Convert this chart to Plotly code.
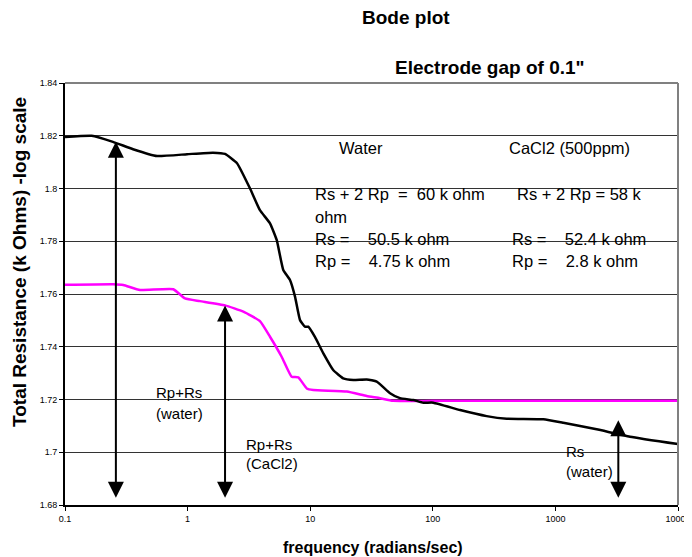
import numpy as np
import plotly.graph_objects as go

# ---- data ----
water_freq = [0.1, 0.165, 0.246, 0.359, 0.563, 0.99, 1.61, 2.02, 2.53, 3.23, 3.89, 4.70,
              5.33, 6.03, 6.84, 7.52, 8.26, 9.07, 9.65, 10.9, 12.8, 15.4, 18.6, 22.5,
              28.9, 34.9, 44.8, 54.0, 69.3, 83.7, 101, 167, 275, 401, 797, 1160, 2170,
              4060, 10000]
water_r = [1.8195, 1.8200, 1.8177, 1.8149, 1.8123, 1.8130, 1.8136, 1.8131, 1.8096, 1.8000,
           1.7918, 1.7868, 1.7805, 1.7691, 1.7653, 1.7590, 1.7501, 1.7476, 1.7476, 1.7438,
           1.7375, 1.7312, 1.7280, 1.7274, 1.7276, 1.7268, 1.7224, 1.7205, 1.7198, 1.7188,
           1.7188, 1.7160, 1.7137, 1.7127, 1.7125, 1.7112, 1.7087, 1.7059, 1.7031]

cacl2_freq = [0.1, 0.248, 0.299, 0.409, 0.764, 0.953, 1.26, 2.02, 2.85, 3.89, 4.70, 5.85,
              7.06, 8.0, 9.37, 10.6, 19.9, 28.9, 37.1, 47.3, 100, 1000, 10000]
cacl2_r = [1.7635, 1.7637, 1.7634, 1.7615, 1.7618, 1.7583, 1.7573, 1.7557, 1.7533, 1.7497,
           1.7438, 1.7362, 1.7286, 1.7284, 1.7242, 1.7236, 1.7230, 1.7213, 1.7205, 1.7195,
           1.7195, 1.7195, 1.7195]

# double arrows: frequency, top value, bottom value
arrow_freq = [0.26, 2.02, 3260]
arrow_top = [1.8177, 1.7556, 1.7121]
arrow_bottom = [1.6822, 1.6822, 1.6822]

y_ticks = [1.68, 1.70, 1.72, 1.74, 1.76, 1.78, 1.80, 1.82, 1.84]
y_ticktext = ["1.68", "1.7", "1.72", "1.74", "1.76", "1.78", "1.8", "1.82", "1.84"]
x_ticks = [0.1, 1, 10, 100, 1000, 10000]
x_ticktext = ["0.1", "1", "10", "100", "1000", "10000"]

FONT = "Liberation Sans, Arial, sans-serif"

fig = go.Figure()
fig.add_trace(go.Scatter(x=cacl2_freq, y=cacl2_r, mode="lines",
                         line=dict(color="#FF00FF", width=2.5, shape="spline", smoothing=0.4),
                         showlegend=False, hoverinfo="skip"))
fig.add_trace(go.Scatter(x=water_freq, y=water_r, mode="lines",
                         line=dict(color="#000000", width=2.5, shape="spline", smoothing=0.4),
                         showlegend=False, hoverinfo="skip"))

annotations = []
for f, yt, yb in zip(arrow_freq, arrow_top, arrow_bottom):
    annotations.append(dict(x=np.log10(f), y=yt, ax=np.log10(f), ay=yb,
                            xref="x", yref="y", axref="x", ayref="y",
                            text="", showarrow=True, arrowhead=2, startarrowhead=2,
                            arrowside="end+start", arrowwidth=2, arrowsize=1.6,
                            startarrowsize=1.6, arrowcolor="#000000",
                            standoff=0, startstandoff=0))

# page offset (body margin of the html page)
OFF = 8
W, H = 692 - OFF, 557 - OFF

# plot area in page coordinates
L, R, T, B = 65, 678, 83, 505
def ax_x(x):
    return (x - L) / (R - L)
def ax_y(y):
    return (B - y) / (B - T)

def ptxt(x, y, s, size=16.5, bold=False, xanchor="left", angle=0):
    annotations.append(dict(x=ax_x(x), y=ax_y(y), xref="paper", yref="paper",
                            text=("<b>%s</b>" % s) if bold else s, textangle=angle,
                            showarrow=False, xanchor=xanchor, yanchor="middle",
                            font=dict(family=FONT, size=size, color="#000000")))

# titles
ptxt(406, 18, "Bode plot", size=19, bold=True, xanchor="center")
ptxt(490, 67, "Electrode gap of 0.1\"", size=19, bold=True, xanchor="center")
ptxt(373, 547, "frequency (radians/sec)", size=16, bold=True, xanchor="center")
ptxt(19, 262, "Total Resistance (k Ohms) -log scale", size=19, bold=True,
     xanchor="center", angle=-90)

# text block
ptxt(337, 148, "Water")
ptxt(507, 148, "CaCl2 (500ppm)")
ptxt(313, 194, "Rs + 2 Rp&nbsp;&nbsp;=&nbsp;&nbsp;60 k ohm")
ptxt(515, 194, "Rs + 2 Rp = 58 k")
ptxt(313, 216.5, "ohm")
ptxt(313, 239, "Rs =&nbsp;&nbsp;&nbsp;&nbsp;50.5 k ohm")
ptxt(510, 239, "Rs =&nbsp;&nbsp;&nbsp;&nbsp;52.4 k ohm")
ptxt(313, 261, "Rp =&nbsp;&nbsp;&nbsp;&nbsp;4.75 k ohm")
ptxt(510, 261, "Rp =&nbsp;&nbsp;&nbsp;&nbsp;2.8 k ohm")

ptxt(154, 393, "Rp+Rs", size=15)
ptxt(154, 413, "(water)", size=15)
ptxt(244, 444, "Rp+Rs", size=15)
ptxt(244, 463, "(CaCl2)", size=15)
ptxt(564, 451, "Rs", size=15)
ptxt(564, 471, "(water)", size=15)

shapes = [
    dict(type="line", xref="paper", yref="paper", x0=0, x1=1, y0=1, y1=1,
         line=dict(color="#808080", width=2)),
    dict(type="line", xref="paper", yref="paper", x0=1, x1=1, y0=0, y1=1,
         line=dict(color="#808080", width=2)),
]

fig.update_layout(
    width=W, height=H, autosize=False,
    margin=dict(l=L - OFF, r=W - (R - OFF), t=T - OFF, b=H - (B - OFF), pad=0,
                autoexpand=False),
    paper_bgcolor="white", plot_bgcolor="white",
    annotations=annotations, shapes=shapes,
    font=dict(family=FONT, size=9, color="#000000"),
    xaxis=dict(type="log", range=[-1, 4], tickvals=x_ticks, ticktext=x_ticktext,
               showgrid=False, zeroline=False, showline=True, linecolor="#000000",
               linewidth=2, ticks="outside", ticklen=4, tickcolor="#000000",
               tickfont=dict(size=9, family=FONT), fixedrange=True, automargin=False),
    yaxis=dict(range=[1.68, 1.84], tickvals=y_ticks, ticktext=y_ticktext,
               showgrid=True, gridcolor="#333333", gridwidth=1, zeroline=False,
               showline=True, linecolor="#000000", linewidth=2, ticks="outside",
               ticklen=4, tickcolor="#000000", tickfont=dict(size=9, family=FONT),
               fixedrange=True, automargin=False),
)

fig.write_html("out.html")
